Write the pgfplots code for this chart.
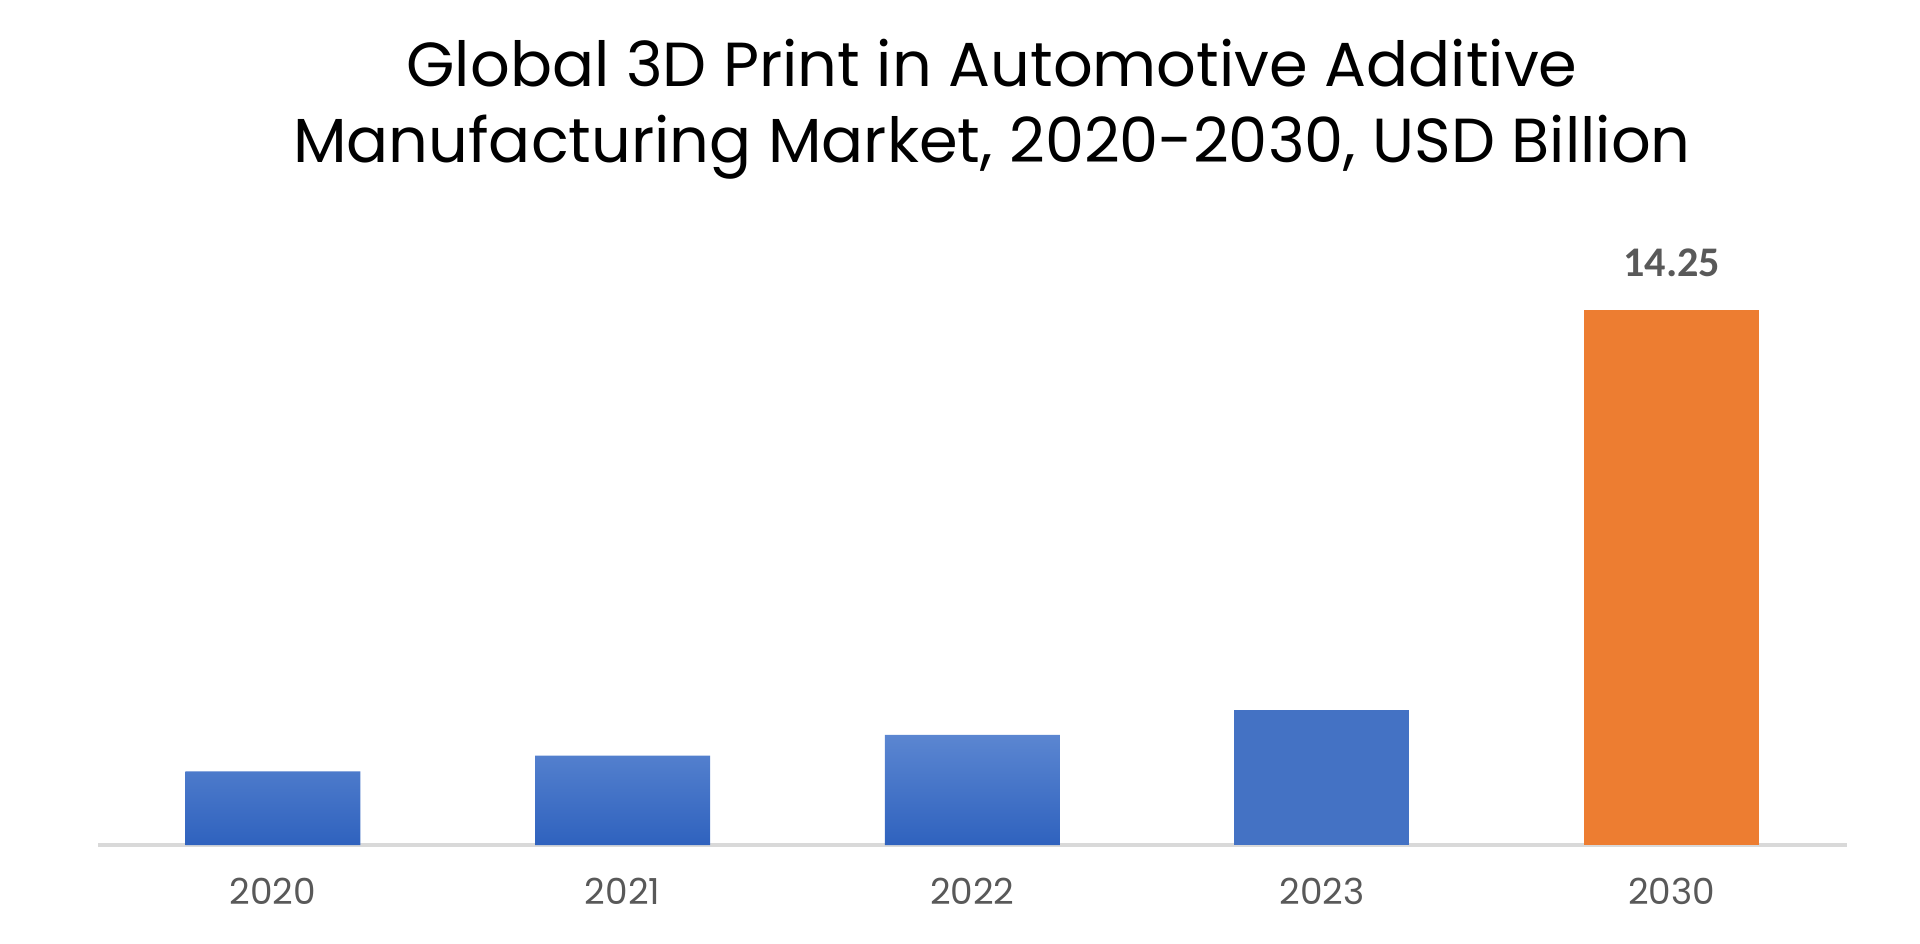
\documentclass[border=0pt]{standalone}
\usepackage{fontspec}
\setmainfont{Poppins}
\newfontfamily\carlito{Carlito}
\usepackage{pgfplots}
\pgfplotsset{compat=1.18}
\definecolor{barblue}{HTML}{4472C4}
\definecolor{bluetop}{HTML}{5B86D1}
\definecolor{bluebot}{HTML}{2F62BE}
\definecolor{barorange}{HTML}{ED7D31}
\definecolor{txtgray}{HTML}{595959}
\definecolor{linegray}{HTML}{D9D9D9}
\begin{document}
\begin{tikzpicture}
\useasboundingbox (0,0) rectangle (19.2cm,9.43cm);
\node[align=center, font=\fontsize{17.7}{21.6}\selectfont, text=black] at (9.92cm,8.34cm)
  {Global 3D Print in Automotive Additive\\Manufacturing Market, 2020-2030, USD Billion};
\begin{axis}[
  at={(0.98cm,0.98cm)}, anchor=south west,
  scale only axis, width=17.485cm, height=6.01cm,
  xmin=-0.5, xmax=4.5, ymin=0, ymax=16,
  axis x line=bottom, axis y line=none,
  x axis line style={-, draw=linegray, line width=1.2pt},
  xtick={0,1,2,3,4},
  xticklabels={2020,2021,2022,2023,2030},
  xtick style={draw=none},
  xticklabel style={font=\fontsize{10.2}{12}\selectfont, text=txtgray, inner sep=0pt, yshift=-0.25cm},
  clip=false,
]
\addplot[ybar, bar shift=0pt, bar width=1.75cm, draw=none, top color=bluetop, bottom color=bluebot]
  coordinates {(0,1.96) (1,2.38) (2,2.93)};
\addplot[ybar, bar shift=0pt, bar width=1.75cm, draw=none, fill=barblue]
  coordinates {(3,3.59)};
\addplot[ybar, bar shift=0pt, bar width=1.75cm, draw=none, fill=barorange,
  nodes near coords,
  every node near coord/.append style={font=\carlito\bfseries\fontsize{12}{13}\selectfont, text=txtgray, inner sep=0pt, anchor=south, yshift=0.32cm},
  point meta=explicit symbolic]
  coordinates {(4,14.25) [14.25]};
\end{axis}
\end{tikzpicture}
\end{document}
